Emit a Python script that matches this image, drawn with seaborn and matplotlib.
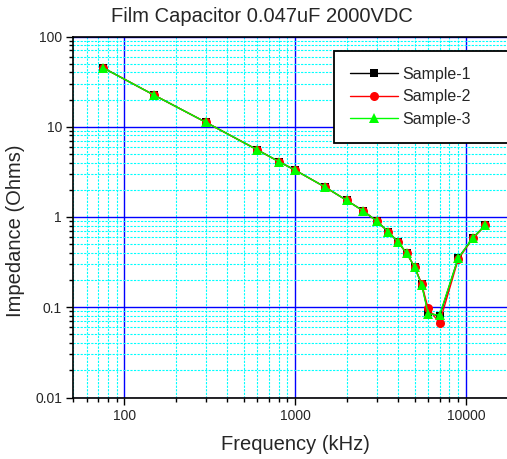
import numpy as np
import pandas as pd
import matplotlib
matplotlib.use("Agg")
import matplotlib.pyplot as plt
from matplotlib.ticker import LogLocator, NullFormatter, FuncFormatter
import seaborn as sns

# impedance sweep of three film capacitor samples
freq_khz = [75, 150, 300, 600, 800, 1000, 1500, 2000, 2500, 3000, 3500,
            4000, 4500, 5000, 5500, 6000, 7000, 9000, 11000, 13000]
sample_1 = [45, 22.3, 11.2, 5.55, 4.12, 3.3, 2.14, 1.53, 1.17, 0.90, 0.69,
            0.527, 0.395, 0.28, 0.18, 0.088, 0.079, 0.35, 0.59, 0.815]
sample_2 = [45, 22.3, 11.2, 5.55, 4.12, 3.3, 2.14, 1.53, 1.17, 0.90, 0.69,
            0.527, 0.395, 0.28, 0.182, 0.097, 0.067, 0.34, 0.585, 0.81]
sample_3 = [45, 22.3, 11.2, 5.55, 4.12, 3.3, 2.14, 1.53, 1.17, 0.90, 0.69,
            0.527, 0.395, 0.28, 0.177, 0.085, 0.0815, 0.35, 0.59, 0.815]
labels = ["Sample-1", "Sample-2", "Sample-3"]
colors = ["#000000", "#ff0000", "#00ff00"]
markers = ["s", "o", "^"]
msizes = [5.5, 6.5, 7.5]

sns.set_style("white")
plt.rcParams["font.family"] = ["Liberation Sans", "DejaVu Sans"]

fig = plt.figure(figsize=(5.07, 4.59), dpi=100)
ax = fig.add_axes([73 / 507, (459 - 397.5) / 459, 434.5 / 507, 361 / 459])

for vals, lab, col, mk, ms in zip([sample_1, sample_2, sample_3], labels, colors, markers, msizes):
    df = pd.DataFrame({"freq": freq_khz, "z": vals})
    sns.lineplot(data=df, x="freq", y="z", color=col, marker=mk, markersize=ms,
                 markeredgewidth=0, linewidth=1, label=lab, ax=ax)

ax.set_xscale("log")
ax.set_yscale("log")
ax.set_xlim(50, 17500)
ax.set_ylim(0.01, 100)

sub = np.arange(2, 10)
ax.xaxis.set_minor_locator(LogLocator(base=10, subs=sub, numticks=100))
ax.yaxis.set_minor_locator(LogLocator(base=10, subs=sub, numticks=100))
ax.xaxis.set_minor_formatter(NullFormatter())
ax.yaxis.set_minor_formatter(NullFormatter())
fmt = FuncFormatter(lambda v, p: "{:g}".format(v))
ax.xaxis.set_major_formatter(fmt)
ax.yaxis.set_major_formatter(fmt)

ax.set_axisbelow(True)
ax.grid(which="minor", color="#00ffff", linestyle=(0, (2, 1.2)), linewidth=0.8)
ax.grid(which="major", color="#0000ff", linestyle="-", linewidth=1)

for s in ax.spines.values():
    s.set_color("black")
    s.set_linewidth(1.2)
ax.tick_params(which="major", direction="out", length=5, width=1, color="black",
               labelsize=10, pad=3, bottom=True, left=True)
ax.tick_params(which="minor", direction="out", length=3, width=1, color="black",
               bottom=True, left=True)

ax.set_xlabel("")
ax.set_ylabel("")

leg = ax.legend(loc="upper left", bbox_to_anchor=(334 / 507, (459 - 140) / 459, 200 / 507, 89 / 459),
                bbox_transform=fig.transFigure, mode="expand", fontsize=11.5,
                handlelength=3.0, handletextpad=0.3, labelspacing=0.46, borderpad=1.0,
                borderaxespad=0, frameon=True, fancybox=False, framealpha=1)
leg.get_frame().set_edgecolor("black")
leg.get_frame().set_linewidth(1.3)

fig.text(262 / 507, 1 - 16 / 459, "Film Capacitor 0.047uF 2000VDC", ha="center", va="center", fontsize=14.5)
fig.text(295.5 / 507, 1 - 445 / 459, "Frequency (kHz)", ha="center", va="center", fontsize=14.5)
fig.text(16 / 507, 1 - 231 / 459, "Impedance (Ohms)", ha="center", va="center", rotation=90, fontsize=14.5)

fig.savefig("out.png", dpi=100)
